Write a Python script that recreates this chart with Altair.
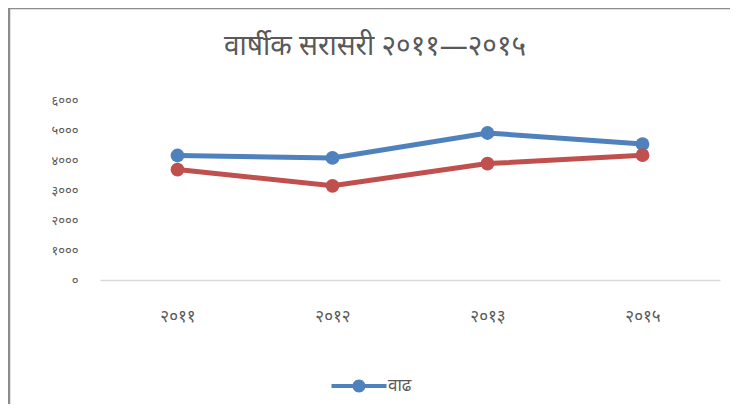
import altair as alt
import pandas as pd

years = ["२०११", "२०१२", "२०१३", "२०१५"]
series_names = ["वाढ", "घट"]
blue_values = [4150, 4070, 4900, 4530]
red_values = [3680, 3140, 3880, 4160]
y_ticks = [0, 1000, 2000, 3000, 4000, 5000, 6000]
y_tick_labels = ["०", "१०००", "२०००", "३०००", "४०००", "५०००", "६०००"]
title_text = "वार्षीक सरासरी २०११—२०१५"

rows = []
for y, v in zip(years, blue_values):
    rows.append({"year": y, "value": v, "series": series_names[0]})
for y, v in zip(years, red_values):
    rows.append({"year": y, "value": v, "series": series_names[1]})
df = pd.DataFrame(rows)

label_map = "{" + ",".join(f"'{t}':'{l}'" for t, l in zip(y_ticks, y_tick_labels)) + "}"

FONT = "Noto Sans"
GRAY = "#595959"

legend_symbol = (
    "M-2.75,-0.2 L-0.6,-0.2 L-0.6,0.2 L-2.75,0.2 Z "
    "M0.6,-0.2 L2.75,-0.2 L2.75,0.2 L0.6,0.2 Z "
    "M-0.65,0 A0.65,0.65 0 1,1 0.65,0 A0.65,0.65 0 1,1 -0.65,0 Z"
)

x_enc = alt.X(
    "year:N",
    sort=years,
    scale=alt.Scale(type="point", padding=0.5),
    axis=alt.Axis(
        title=None,
        labelAngle=0,
        ticks=False,
        tickSize=0,
        domainColor="#d9d9d9",
        domainWidth=1.5,
        labelPadding=28,
        labelFontSize=17,
        labelColor=GRAY,
        labelFont=FONT,
        grid=False,
    ),
)
y_enc = alt.Y(
    "value:Q",
    scale=alt.Scale(domain=[0, 6000], nice=False),
    axis=alt.Axis(
        title=None,
        values=y_ticks,
        labelExpr=f"{label_map}[datum.value]",
        ticks=False,
        tickSize=0,
        domain=False,
        grid=False,
        labelPadding=22,
        labelFontSize=13,
        labelColor=GRAY,
        labelFont=FONT,
    ),
)
color_enc = alt.Color(
    "series:N",
    sort=series_names,
    scale=alt.Scale(domain=series_names, range=["#4f81bd", "#c0504d"]),
    legend=alt.Legend(
        title=None,
        values=[series_names[0]],
        orient="none",
        legendX=249,
        legendY=276,
        symbolType=legend_symbol,
        symbolSize=400,
        symbolFillColor="#4f81bd",
        symbolStrokeColor="#4f81bd",
        symbolStrokeWidth=0,
        labelFontSize=17,
        labelColor=GRAY,
        labelFont=FONT,
        labelOffset=19,
    ),
)

base = alt.Chart(df)
lines = base.mark_line(strokeWidth=5).encode(x=x_enc, y=y_enc, color=color_enc, detail="series:N")
points = base.mark_point(filled=True, size=190, opacity=1).encode(x=x_enc, y=y_enc, color=color_enc)

frame = pd.DataFrame({"k": [0]})
left_border = alt.Chart(frame).mark_rule(color="#8c8c8c", strokeWidth=2.5).encode(
    x=alt.value(-91), y=alt.value(-92), y2=alt.value(320)
)
top_border = alt.Chart(frame).mark_rule(color="#8c8c8c", strokeWidth=2.5).encode(
    x=alt.value(-92), x2=alt.value(640), y=alt.value(-92)
)
title_mark = alt.Chart(frame).mark_text(
    text=title_text, fontSize=28, color=GRAY, font=FONT, align="center", baseline="middle"
).encode(x=alt.value(275), y=alt.value(-53))

chart = alt.layer(left_border, top_border, title_mark, lines, points).properties(
    width=620,
    height=180,
    padding={"left": 92, "top": 92, "right": 10, "bottom": 124},
    autosize=alt.AutoSizeParams(type="none"),
    background="white",
).configure_view(stroke=None)

chart.save("out.html", embed_options={"renderer": "svg", "actions": False})
